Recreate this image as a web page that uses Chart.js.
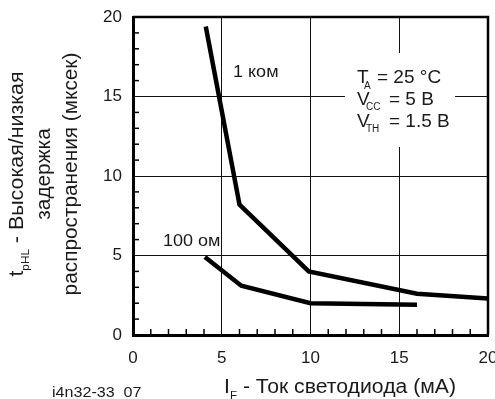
<!DOCTYPE html>
<html>
<head>
<meta charset="utf-8">
<script src="https://cdn.jsdelivr.net/npm/chart.js@4"></script>
<style>
  html, body { margin: 0; padding: 0; background: #fff; }
  #wrap { width: 495px; height: 399px; position: relative; }
</style>
</head>
<body>
<div id="wrap"><canvas id="chart"></canvas></div>
<script>
// data
const xTicks = [0, 5, 10, 15, 20];
const yTicks = [0, 5, 10, 15, 20];
const kOhmX = [4.1, 6.0, 9.9, 16.0, 20.0];
const kOhmY = [19.4, 8.2, 4.0, 2.6, 2.3];
const ohm100X = [4.05, 6.1, 10.0, 16.0];
const ohm100Y = [4.9, 3.1, 2.0, 1.9];

const FONT = '"Liberation Sans", Arial, sans-serif';
const INK = '#1a1a1a';

function pts(xs, ys) { return xs.map((x, i) => ({ x: x, y: ys[i] })); }

// plain text, slightly widened like the scan
function txt(ctx, s, x, y, size, sx) {
    ctx.save();
    ctx.translate(x, y);
    ctx.scale(sx || 1, 1);
    ctx.font = size + 'px ' + FONT;
    ctx.fillText(s, 0, 0);
    ctx.restore();
}

// main char + subscript + rest
function subText(ctx, x, y, main, sub, rest, o) {
    ctx.save();
    ctx.translate(x, y);
    ctx.scale(o.sx || 1, 1);
    ctx.font = o.size + 'px ' + FONT;
    ctx.fillText(main, 0, 0);
    let w = ctx.measureText(main).width + (o.subGap || 0);
    ctx.font = o.subSize + 'px ' + FONT;
    ctx.fillText(sub, w, o.drop);
    w += ctx.measureText(sub).width;
    ctx.font = o.size + 'px ' + FONT;
    ctx.fillText(rest, w, 0);
    ctx.restore();
}

function measureSub(ctx, main, sub, rest, o) {
    ctx.font = o.size + 'px ' + FONT;
    let w = ctx.measureText(main).width + (o.subGap || 0);
    ctx.font = o.subSize + 'px ' + FONT;
    w += ctx.measureText(sub).width;
    ctx.font = o.size + 'px ' + FONT;
    w += ctx.measureText(rest).width;
    return w * (o.sx || 1);
}

const extras = {
    id: 'extras',
    beforeDatasetsDraw(chart) {
        const ctx = chart.ctx, a = chart.chartArea;
        const xs = chart.scales.x, ys = chart.scales.y;
        ctx.save();
        // minor ticks, inward
        ctx.strokeStyle = '#000';
        ctx.lineWidth = 1.5;
        for (let v = 1; v < 20; v++) {
            if (v % 5 === 0) continue;
            const px = xs.getPixelForValue(v);
            ctx.beginPath(); ctx.moveTo(px, a.bottom); ctx.lineTo(px, a.bottom - 6); ctx.stroke();
            const py = ys.getPixelForValue(v);
            ctx.beginPath(); ctx.moveTo(a.left, py); ctx.lineTo(a.left + 6, py); ctx.stroke();
        }
        // frame
        ctx.lineWidth = 2.5;
        ctx.beginPath();
        ctx.moveTo(a.left, a.top); ctx.lineTo(a.right, a.top); ctx.lineTo(a.right, a.bottom);
        ctx.stroke();

        // condition box
        ctx.fillStyle = '#fff';
        ctx.fillRect(345, 53, 110, 94);
        ctx.fillStyle = INK;
        ctx.textBaseline = 'alphabetic';
        ctx.textAlign = 'left';
        txt(ctx, 'T', 357, 83, 19);
        txt(ctx, 'A', 364, 89, 10);
        txt(ctx, '= 25 °C', 377, 83, 19);
        txt(ctx, 'V', 357, 105, 19);
        txt(ctx, 'CC', 366, 110, 10);
        txt(ctx, '= 5 B', 389, 105, 19);
        txt(ctx, 'V', 357, 127, 19);
        txt(ctx, 'TH', 366, 132, 10);
        txt(ctx, '= 1.5 B', 389, 127, 19);

        // curve labels
        txt(ctx, '1 ком', 233, 77, 17, 1.06);
        txt(ctx, '100 ом', 163, 246, 17, 1.06);
        ctx.restore();
    },
    afterDraw(chart) {
        const ctx = chart.ctx;
        ctx.save();
        ctx.fillStyle = INK;
        ctx.textBaseline = 'alphabetic';
        ctx.textAlign = 'left';
        // x title
        subText(ctx, 224, 393, 'I', 'F', ' - Ток светодиода (мА)',
            { size: 20, subSize: 11, drop: 6, subGap: 0, sx: 1.06 });
        // figure id
        txt(ctx, 'i4n32-33  07', 52, 397, 14, 1.15);
        // y title, three rotated lines, centred at the same height
        const cy = 174;
        const o1 = { size: 20, subSize: 11, drop: 6, subGap: 0, sx: 1.07 };
        const w1 = measureSub(ctx, 't', 'pHL', ' - Высокая/низкая', o1);
        ctx.save();
        ctx.translate(23, cy);
        ctx.rotate(-Math.PI / 2);
        subText(ctx, -w1 / 2, 0, 't', 'pHL', ' - Высокая/низкая', o1);
        ctx.restore();
        [['задержка', 50], ['распространения (мксек)', 77]].forEach(([t, bx]) => {
            ctx.save();
            ctx.translate(bx, cy);
            ctx.rotate(-Math.PI / 2);
            ctx.font = '20px ' + FONT;
            const w = ctx.measureText(t).width * 1.04;
            txt(ctx, t, -w / 2, 0, 20, 1.04);
            ctx.restore();
        });
        ctx.restore();
    }
};

new Chart(document.getElementById('chart'), {
    type: 'line',
    data: {
        datasets: [
            { label: '1 ком', data: pts(kOhmX, kOhmY) },
            { label: '100 ом', data: pts(ohm100X, ohm100Y) }
        ]
    },
    options: {
        responsive: true,
        maintainAspectRatio: false,
        animation: false,
        layout: { padding: { top: 17, right: 7, left: 0, bottom: 0 } },
        elements: {
            line: { borderColor: '#000', borderWidth: 4.5, tension: 0, borderJoinStyle: 'miter', borderCapStyle: 'butt' },
            point: { radius: 0 }
        },
        plugins: { legend: { display: false }, tooltip: { enabled: false } },
        scales: {
            x: {
                type: 'linear', min: 0, max: 20,
                afterBuildTicks: s => { s.ticks = xTicks.map(v => ({ value: v })); },
                afterFit: s => { s.height = 64; s.paddingLeft = 0; s.paddingRight = 0; },
                grid: { color: '#111', lineWidth: 1, drawTicks: false },
                border: { color: '#000', width: 3 },
                ticks: { padding: 13, color: INK, font: { family: FONT, size: 17 } }
            },
            y: {
                min: 0, max: 20,
                afterBuildTicks: s => { s.ticks = yTicks.map(v => ({ value: v })); },
                afterFit: s => { s.width = 133; s.paddingTop = 0; s.paddingBottom = 0; },
                grid: { color: '#111', lineWidth: 1, drawTicks: false },
                border: { color: '#000', width: 3 },
                ticks: { padding: 11, color: INK, font: { family: FONT, size: 17 } }
            }
        }
    },
    plugins: [extras]
});
</script>
</body>
</html>
